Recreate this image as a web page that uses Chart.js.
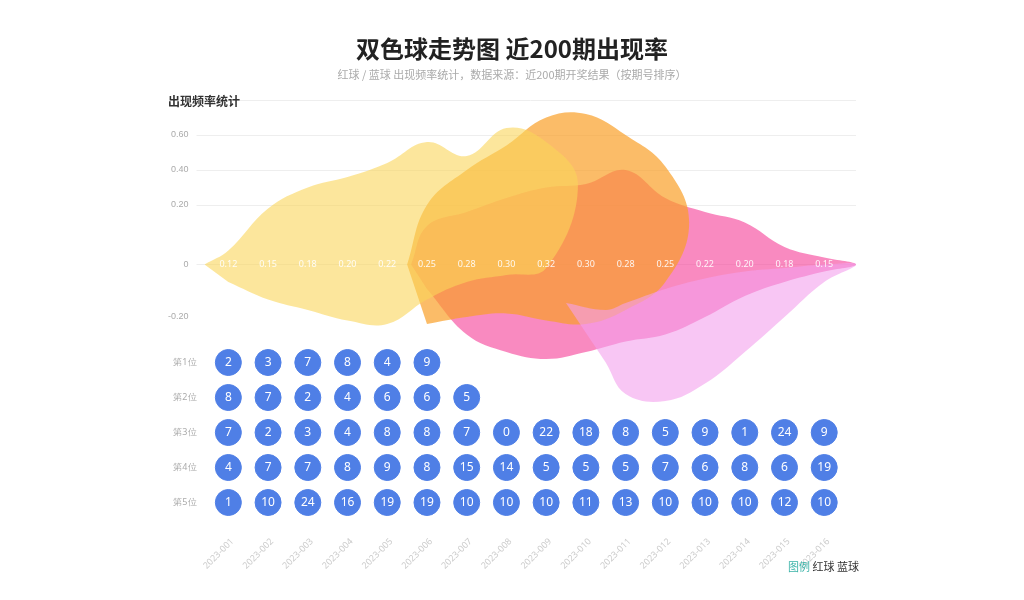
<!DOCTYPE html>
<html><head><meta charset="utf-8">
<script src="https://cdn.jsdelivr.net/npm/chart.js@4/dist/chart.umd.min.js"></script>
<style>
body{margin:0;background:#fff;font-family:"Noto Sans CJK SC","Noto Sans",sans-serif;}
h1{margin:0;position:absolute;top:30px;width:1024px;text-align:center;font-size:24px;color:#222;font-weight:700;}
.sub{position:absolute;top:66px;width:1024px;text-align:center;font-size:11px;color:#aaa;}
.lbl{position:absolute;top:92px;left:168px;font-size:12px;font-weight:700;color:#333;}
.foot{position:absolute;top:558px;left:788px;font-size:11px;color:#333;}
#wrap{position:absolute;left:0;top:0;width:1024px;height:600px;}
</style></head><body>
<div id="wrap"><canvas id="grafico"></canvas></div>
<h1>双色球走势图 近200期出现率</h1>
<div class="sub">红球 / 蓝球 出现频率统计，数据来源：近200期开奖结果（按期号排序）</div>
<div class="lbl">出现频率统计</div>
<div class="foot"><span style="color:#3bb3a8">图例</span> 红球 蓝球</div>
<script>
var periodos = ['2023-001','2023-002','2023-003','2023-004','2023-005','2023-006','2023-007','2023-008',
  '2023-009','2023-010','2023-011','2023-012','2023-013','2023-014','2023-015','2023-016'];
var taxas = ['0.12','0.15','0.18','0.20','0.22','0.25','0.28','0.30','0.32','0.30','0.28','0.25','0.22','0.20','0.18','0.15'];
var tickValores = [12, 11, 10, 9, 7.3, 5.8];
var tickTextos = ['', '0.60', '0.40', '0.20', '0', '-0.20'];
var linhasNomes = ['第1位', '第2位', '第3位', '第4位', '第5位'];

// camadas (bordas superior e inferior), eixo x = indice do periodo
var amareloX = [-0.6, 0, 1, 2, 3, 4, 5, 6, 7, 8, 8.8];
var amareloSup = [7.3, 7.7, 8.9, 9.5, 9.8, 10.2, 10.8, 10.4, 11.2, 10.8, 9.6];
var amareloInf = [7.3, 6.8, 6.3, 6.0, 5.7, 5.6, 6.3, 6.8, 7.0, 7.2, 7.3];
var laranjaX = [4.5, 5, 6, 7, 8, 9, 10, 11, 11.6];
var laranjaSup = [7.3, 9.0, 10.0, 10.7, 11.5, 11.6, 11.0, 10.1, 8.5];
var laranjaInf = [7.3, 5.6, 5.8, 5.9, 5.7, 5.6, 6.0, 6.8, 7.3];
var rosaX = [4.6, 5, 6, 7, 8, 9, 10, 11, 12, 13, 14, 15, 15.8];
var rosaSup = [7.3, 8.4, 8.8, 9.2, 9.5, 9.6, 10.0, 9.2, 8.8, 8.5, 7.8, 7.5, 7.3];
var rosaInf = [7.3, 6.6, 5.3, 4.8, 4.6, 4.8, 5.1, 5.3, 5.8, 6.4, 6.8, 7.1, 7.3];
var lilasX = [8.5, 9.5, 10, 11, 12, 13, 14, 15, 15.8];
var lilasSup = [6.2, 6.0, 6.2, 6.6, 6.9, 7.1, 7.2, 7.3, 7.3];
var lilasInf = [6.2, 4.5, 3.6, 3.4, 3.9, 4.8, 5.8, 6.8, 7.3];

var bolas = [
  [2, 3, 7, 8, 4, 9],
  [8, 7, 2, 4, 6, 6, 5],
  [7, 2, 3, 4, 8, 8, 7, 0, 22, 18, 8, 5, 9, 1, 24, 9],
  [4, 7, 7, 8, 9, 8, 15, 14, 5, 5, 5, 7, 6, 8, 6, 19],
  [1, 10, 24, 16, 19, 19, 10, 10, 10, 11, 13, 10, 10, 10, 12, 10]
];
var linhasY = [4.5, 3.5, 2.5, 1.5, 0.5];

// contorno fechado: borda superior ida, borda inferior volta
function camada(xs, sup, inf, cor) {
  var pts = xs.map(function(x, i) { return {x: x, y: sup[i]}; });
  for (var i = xs.length - 2; i >= 1; i--) pts.push({x: xs[i], y: inf[i]});
  return {data: pts, borderWidth: 0, pointRadius: 0, tension: 0.4, fill: 'shape',
    backgroundColor: cor, showLine: true, spanGaps: true};
}

var datasets = [
  camada(amareloX, amareloSup, amareloInf, 'rgba(250,214,90,0.6)'),
  camada(lilasX, lilasSup, lilasInf, 'rgba(244,160,236,0.6)'),
  camada(laranjaX, laranjaSup, laranjaInf, 'rgba(250,160,40,0.7)'),
  camada(rosaX, rosaSup, rosaInf, 'rgba(245,60,150,0.6)')
];

var bolasPontos = [];
bolas.forEach(function(linha, r) {
  linha.forEach(function(v, i) { bolasPontos.push({x: i, y: linhasY[r], v: v}); });
});
datasets.push({data: bolasPontos, showLine: false, pointRadius: 13, pointHoverRadius: 13,
  backgroundColor: '#4f7fe6', borderColor: '#4f7fe6'});

var rotulos = {
  id: 'rotulos',
  afterDatasetsDraw: function(chart) {
    var ctx = chart.ctx, xs = chart.scales.x, ys = chart.scales.y;
    ctx.save();
    ctx.textAlign = 'center'; ctx.textBaseline = 'middle';
    ctx.font = '12px "Noto Sans"'; ctx.fillStyle = '#fff';
    bolasPontos.forEach(function(p) { ctx.fillText(p.v, xs.getPixelForValue(p.x), ys.getPixelForValue(p.y)); });
    ctx.font = '9px "Noto Sans"'; ctx.fillStyle = 'rgba(255,255,255,0.9)';
    taxas.forEach(function(t, i) { ctx.fillText(t, xs.getPixelForValue(i), ys.getPixelForValue(7.3)); });
    ctx.fillStyle = '#aaa'; ctx.textAlign = 'right';
    linhasNomes.forEach(function(n, r) { ctx.fillText(n, xs.left - 8, ys.getPixelForValue(linhasY[r])); });
    ctx.fillStyle = '#ccc';
    periodos.forEach(function(p, i) {
      ctx.save();
      ctx.translate(xs.getPixelForValue(i) + 4, ys.bottom + 20);
      ctx.rotate(-Math.PI / 4);
      ctx.fillText(p, 0, 0);
      ctx.restore();
    });
    ctx.restore();
  }
};

new Chart(document.getElementById('grafico').getContext('2d'), {
  type: 'scatter',
  data: {datasets: datasets},
  plugins: [rotulos],
  options: {
    responsive: true, maintainAspectRatio: false, animation: false,
    layout: {padding: {left: 160, right: 168, top: 100, bottom: 72}},
    plugins: {legend: {display: false}, tooltip: {enabled: false}},
    scales: {
      x: {type: 'linear', min: -0.6, max: 15.8, grid: {display: false}, border: {display: false},
        ticks: {display: false}},
      y: {min: 0, max: 12, border: {display: false},
        afterBuildTicks: function(ax) { ax.ticks = tickValores.map(function(v) { return {value: v}; }); },
        grid: {color: function(c) { return c.tick && c.tick.value <= 6 ? 'rgba(0,0,0,0)' : '#eee'; }},
        ticks: {color: '#aaa', font: {size: 9}, padding: 8,
          callback: function(v) { var i = tickValores.indexOf(v); return i < 0 ? '' : tickTextos[i]; }}}
    }
  }
});
</script>
</body></html>
